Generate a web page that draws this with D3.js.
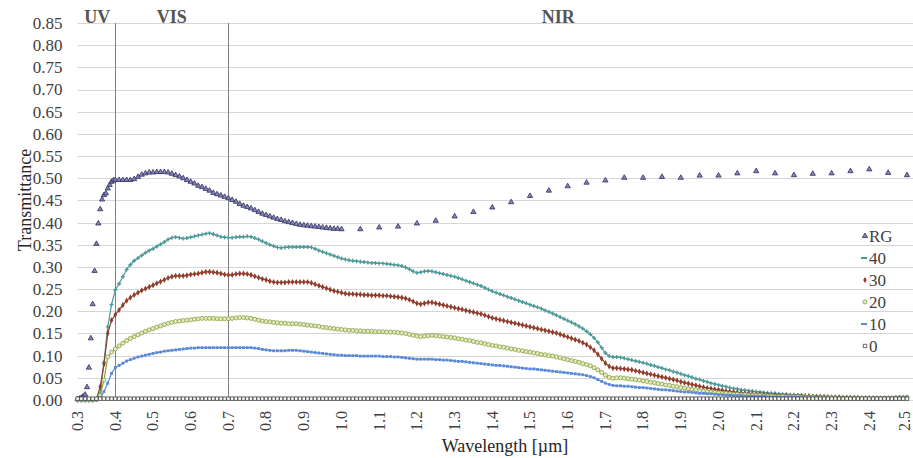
<!DOCTYPE html>
<html>
<head>
<meta charset="utf-8">
<script src="https://cdn.jsdelivr.net/npm/d3@7"></script>
<style>
  html, body { margin: 0; padding: 0; background: #fff; }
  svg { display: block; }
  svg text { font-family: "Liberation Serif", "Times New Roman", Times, "DejaVu Serif", serif !important; }
</style>
</head>
<body>
<svg id="chart" width="913" height="458"></svg>
<script>
// ---- Data ----
const wavelengths = [
  0.30,0.31,0.32,0.33,0.34,0.35,0.36,0.37,0.38,0.39,
  0.40,0.41,0.42,0.43,0.44,0.45,0.46,0.47,0.48,0.49,
  0.50,0.51,0.52,0.53,0.54,0.55,0.56,0.57,0.58,0.59,
  0.60,0.61,0.62,0.63,0.64,0.65,0.66,0.67,0.68,0.69,
  0.70,0.71,0.72,0.73,0.74,0.75,0.76,0.77,0.78,0.79,
  0.80,0.81,0.82,0.83,0.84,0.85,0.86,0.87,0.88,0.89,
  0.90,0.91,0.92,0.93,0.94,0.95,0.96,0.97,0.98,0.99,
  1.00,1.01,1.02,1.03,1.04,1.05,1.06,1.07,1.08,1.09,
  1.10,1.11,1.12,1.13,1.14,1.15,1.16,1.17,1.18,1.19,
  1.20,1.21,1.22,1.23,1.24,1.25,1.26,1.27,1.28,1.29,
  1.30,1.31,1.32,1.33,1.34,1.35,1.36,1.37,1.38,1.39,
  1.40,1.41,1.42,1.43,1.44,1.45,1.46,1.47,1.48,1.49,
  1.50,1.51,1.52,1.53,1.54,1.55,1.56,1.57,1.58,1.59,
  1.60,1.61,1.62,1.63,1.64,1.65,1.66,1.67,1.68,1.69,
  1.70,1.71,1.72,1.73,1.74,1.75,1.76,1.77,1.78,1.79,
  1.80,1.81,1.82,1.83,1.84,1.85,1.86,1.87,1.88,1.89,
  1.90,1.91,1.92,1.93,1.94,1.95,1.96,1.97,1.98,1.99,
  2.00,2.01,2.02,2.03,2.04,2.05,2.06,2.07,2.08,2.09,
  2.10,2.11,2.12,2.13,2.14,2.15,2.16,2.17,2.18,2.19,
  2.20,2.21,2.22,2.23,2.24,2.25,2.26,2.27,2.28,2.29,
  2.30,2.31,2.32,2.33,2.34,2.35,2.36,2.37,2.38,2.39,
  2.40,2.41,2.42,2.43,2.44,2.45,2.46,2.47,2.48,2.49,
  2.50
];

const series40 = [
  0,0,0,0,0,0.002,0.015,0.085,0.165,0.215,
  0.248,0.262,0.278,0.294,0.305,0.314,0.320,0.326,0.332,0.337,
  0.341,0.346,0.351,0.356,0.362,0.366,0.367,0.366,0.364,0.365,
  0.367,0.369,0.371,0.373,0.375,0.376,0.374,0.371,0.368,0.367,
  0.366,0.366,0.367,0.368,0.368,0.369,0.368,0.365,0.362,0.358,
  0.354,0.350,0.347,0.344,0.343,0.344,0.345,0.345,0.345,0.345,
  0.345,0.345,0.344,0.341,0.337,0.334,0.331,0.328,0.325,0.322,
  0.319,0.317,0.315,0.314,0.313,0.312,0.311,0.310,0.309,0.309,
  0.308,0.308,0.307,0.306,0.305,0.304,0.302,0.299,0.295,0.290,
  0.287,0.288,0.290,0.291,0.290,0.288,0.286,0.284,0.282,0.280,
  0.278,0.275,0.272,0.269,0.266,0.263,0.260,0.257,0.253,0.249,
  0.245,0.242,0.239,0.236,0.233,0.230,0.227,0.224,0.221,0.218,
  0.215,0.212,0.209,0.206,0.202,0.199,0.195,0.191,0.187,0.183,
  0.179,0.175,0.171,0.166,0.161,0.155,0.148,0.140,0.130,0.118,
  0.106,0.099,0.097,0.097,0.096,0.094,0.092,0.090,0.088,0.086,
  0.084,0.082,0.079,0.077,0.074,0.072,0.069,0.067,0.064,0.062,
  0.059,0.056,0.054,0.051,0.048,0.046,0.043,0.041,0.038,0.036,
  0.034,0.032,0.030,0.028,0.026,0.025,0.023,0.022,0.021,0.020,
  0.019,0.018,0.017,0.016,0.015,0.015,0.014,0.013,0.013,0.012,
  0.012,0.011,0.011,0.010,0.010,0.009,0.009,0.008,0.008,0.008,
  0.007,0.007,0.007,0.006,0.006,0.006,0.006,0.005,0.005,0.005,
  0.005,0.005,0.004,0.004,0.004,0.005,0.004,0.005,0.006,0.006,
  0.007
];

const series30 = [
  0,0,0,0,0,0.002,0.030,0.081,0.150,0.180,
  0.192,0.203,0.214,0.224,0.231,0.237,0.242,0.247,0.251,0.255,
  0.259,0.263,0.267,0.271,0.275,0.278,0.280,0.280,0.280,0.281,
  0.283,0.284,0.285,0.287,0.289,0.289,0.288,0.287,0.285,0.283,
  0.282,0.282,0.284,0.285,0.285,0.284,0.282,0.279,0.276,0.273,
  0.271,0.268,0.266,0.265,0.265,0.265,0.266,0.266,0.266,0.266,
  0.266,0.266,0.264,0.261,0.258,0.255,0.252,0.249,0.246,0.244,
  0.242,0.240,0.239,0.239,0.238,0.238,0.237,0.237,0.236,0.236,
  0.236,0.235,0.235,0.234,0.233,0.232,0.231,0.229,0.226,0.222,
  0.218,0.216,0.218,0.220,0.220,0.218,0.216,0.214,0.212,0.210,
  0.208,0.206,0.204,0.202,0.200,0.198,0.196,0.194,0.191,0.188,
  0.185,0.183,0.181,0.179,0.177,0.175,0.173,0.171,0.169,0.167,
  0.165,0.163,0.161,0.159,0.157,0.155,0.153,0.151,0.148,0.145,
  0.142,0.139,0.136,0.133,0.129,0.125,0.119,0.112,0.103,0.093,
  0.083,0.076,0.072,0.072,0.071,0.070,0.069,0.068,0.066,0.064,
  0.062,0.060,0.058,0.056,0.054,0.052,0.050,0.048,0.046,0.044,
  0.041,0.039,0.037,0.035,0.033,0.031,0.029,0.027,0.026,0.024,
  0.023,0.022,0.020,0.019,0.018,0.017,0.016,0.015,0.015,0.014,
  0.013,0.013,0.012,0.012,0.011,0.011,0.010,0.010,0.010,0.009,
  0.009,0.009,0.008,0.008,0.008,0.007,0.007,0.007,0.007,0.006,
  0.006,0.006,0.006,0.005,0.005,0.005,0.005,0.005,0.004,0.004,
  0.004,0.004,0.004,0.004,0.004,0.004,0.004,0.005,0.005,0.005,
  0.006
];

const series20 = [
  0,0,0,0,0,0.001,0.010,0.045,0.097,0.108,
  0.115,0.122,0.128,0.134,0.139,0.143,0.147,0.151,0.155,0.158,
  0.161,0.164,0.167,0.170,0.173,0.175,0.177,0.178,0.179,0.180,
  0.181,0.182,0.183,0.184,0.184,0.184,0.184,0.183,0.183,0.183,
  0.183,0.184,0.185,0.186,0.186,0.185,0.184,0.182,0.180,0.178,
  0.177,0.176,0.175,0.174,0.173,0.173,0.172,0.172,0.172,0.171,
  0.170,0.169,0.168,0.167,0.166,0.164,0.163,0.162,0.161,0.160,
  0.159,0.158,0.157,0.157,0.156,0.156,0.155,0.155,0.155,0.154,
  0.154,0.154,0.153,0.153,0.153,0.152,0.151,0.150,0.148,0.146,
  0.144,0.143,0.144,0.145,0.146,0.145,0.144,0.143,0.142,0.141,
  0.140,0.138,0.137,0.135,0.134,0.132,0.130,0.129,0.127,0.125,
  0.123,0.122,0.120,0.119,0.117,0.115,0.114,0.112,0.111,0.109,
  0.108,0.106,0.105,0.103,0.102,0.100,0.099,0.097,0.095,0.093,
  0.091,0.089,0.087,0.085,0.082,0.080,0.077,0.073,0.068,0.062,
  0.056,0.051,0.049,0.050,0.050,0.049,0.048,0.047,0.046,0.045,
  0.043,0.042,0.040,0.039,0.037,0.036,0.034,0.033,0.031,0.030,
  0.028,0.027,0.025,0.024,0.023,0.021,0.020,0.019,0.018,0.017,
  0.016,0.015,0.015,0.014,0.013,0.013,0.012,0.012,0.011,0.011,
  0.010,0.010,0.009,0.009,0.009,0.008,0.008,0.008,0.007,0.007,
  0.007,0.007,0.006,0.006,0.006,0.006,0.005,0.005,0.005,0.005,
  0.005,0.005,0.004,0.004,0.004,0.004,0.004,0.004,0.004,0.003,
  0.003,0.003,0.003,0.004,0.004,0.004,0.004,0.005,0.005,0.005,
  0.006
];

const series10 = [
  0,0,0,0,0,0,0.004,0.019,0.038,0.060,
  0.073,0.078,0.083,0.088,0.091,0.094,0.097,0.099,0.101,0.103,
  0.105,0.107,0.108,0.110,0.111,0.112,0.113,0.114,0.115,0.116,
  0.117,0.117,0.118,0.118,0.118,0.118,0.118,0.118,0.118,0.118,
  0.118,0.118,0.118,0.118,0.118,0.118,0.118,0.117,0.116,0.114,
  0.113,0.112,0.111,0.111,0.111,0.111,0.112,0.112,0.112,0.111,
  0.110,0.109,0.108,0.107,0.106,0.105,0.104,0.103,0.102,0.101,
  0.101,0.100,0.100,0.100,0.100,0.099,0.099,0.099,0.099,0.099,
  0.099,0.098,0.098,0.098,0.097,0.097,0.096,0.095,0.094,0.093,
  0.092,0.092,0.092,0.092,0.092,0.091,0.091,0.090,0.090,0.089,
  0.088,0.087,0.087,0.086,0.085,0.084,0.083,0.082,0.081,0.080,
  0.079,0.078,0.078,0.077,0.076,0.075,0.074,0.073,0.072,0.071,
  0.070,0.070,0.069,0.068,0.067,0.066,0.065,0.064,0.063,0.062,
  0.061,0.060,0.059,0.058,0.057,0.055,0.053,0.050,0.046,0.042,
  0.038,0.035,0.033,0.032,0.032,0.031,0.031,0.030,0.029,0.028,
  0.028,0.027,0.026,0.025,0.024,0.023,0.023,0.022,0.021,0.020,
  0.019,0.018,0.018,0.017,0.016,0.015,0.015,0.014,0.014,0.013,
  0.012,0.012,0.011,0.011,0.010,0.010,0.010,0.009,0.009,0.009,
  0.008,0.008,0.008,0.007,0.007,0.007,0.007,0.006,0.006,0.006,
  0.006,0.006,0.005,0.005,0.005,0.005,0.005,0.004,0.004,0.004,
  0.004,0.004,0.004,0.004,0.003,0.003,0.003,0.003,0.003,0.003,
  0.003,0.003,0.003,0.003,0.004,0.004,0.004,0.004,0.005,0.005,
  0.006
];

const series0 = [
  0.003,0.003,0.003,0.003,0.003,0.003,0.003,0.003,0.003,0.003,
  0.003,0.003,0.003,0.003,0.003,0.003,0.003,0.003,0.003,0.003,
  0.003,0.003,0.003,0.003,0.003,0.003,0.003,0.003,0.003,0.003,
  0.003,0.003,0.003,0.003,0.003,0.003,0.003,0.003,0.003,0.003,
  0.003,0.003,0.003,0.003,0.003,0.003,0.003,0.003,0.003,0.003,
  0.003,0.003,0.003,0.003,0.003,0.003,0.003,0.003,0.003,0.003,
  0.003,0.003,0.003,0.003,0.003,0.003,0.003,0.003,0.003,0.003,
  0.003,0.003,0.003,0.003,0.003,0.003,0.003,0.003,0.003,0.003,
  0.003,0.003,0.003,0.003,0.003,0.003,0.003,0.003,0.003,0.003,
  0.003,0.003,0.003,0.003,0.003,0.003,0.003,0.003,0.003,0.003,
  0.003,0.003,0.003,0.003,0.003,0.003,0.003,0.003,0.003,0.003,
  0.003,0.003,0.003,0.003,0.003,0.003,0.003,0.003,0.003,0.003,
  0.003,0.003,0.003,0.003,0.003,0.003,0.003,0.003,0.003,0.003,
  0.003,0.003,0.003,0.003,0.003,0.003,0.003,0.003,0.003,0.003,
  0.003,0.003,0.003,0.003,0.003,0.003,0.003,0.003,0.003,0.003,
  0.003,0.003,0.003,0.003,0.003,0.003,0.003,0.003,0.003,0.003,
  0.003,0.003,0.003,0.003,0.003,0.003,0.003,0.003,0.003,0.003,
  0.003,0.003,0.003,0.003,0.003,0.003,0.003,0.003,0.003,0.003,
  0.003,0.003,0.003,0.003,0.003,0.003,0.003,0.003,0.003,0.003,
  0.003,0.003,0.003,0.003,0.003,0.003,0.003,0.003,0.003,0.003,
  0.003,0.003,0.003,0.003,0.003,0.003,0.003,0.003,0.003,0.003,
  0.003,0.003,0.003,0.003,0.003,0.003,0.003,0.003,0.003,0.003,
  0.003
];

const rgWavelengths = [
  0.300,0.305,0.310,0.315,0.320,0.325,0.330,0.335,0.340,0.345,
  0.350,0.355,0.360,0.365,0.370,0.375,0.380,0.385,0.390,0.395,0.400,
  0.41,0.42,0.43,0.44,0.45,0.46,0.47,0.48,0.49,0.50,
  0.51,0.52,0.53,0.54,0.55,0.56,0.57,0.58,0.59,0.60,
  0.61,0.62,0.63,0.64,0.65,0.66,0.67,0.68,0.69,0.70,
  0.71,0.72,0.73,0.74,0.75,0.76,0.77,0.78,0.79,0.80,
  0.81,0.82,0.83,0.84,0.85,0.86,0.87,0.88,0.89,0.90,
  0.91,0.92,0.93,0.94,0.95,0.96,0.97,0.98,0.99,1.00,
  1.05,1.10,1.15,1.20,1.25,1.30,1.35,1.40,1.45,1.50,
  1.55,1.60,1.65,1.70,1.75,1.80,1.85,1.90,1.95,2.00,
  2.05,2.10,2.15,2.20,2.25,2.30,2.35,2.40,2.45,2.50
];
const seriesRG = [
  0.002,0.003,0.005,0.008,0.012,0.029,0.073,0.139,0.216,0.291,
  0.352,0.398,0.430,0.452,0.462,0.466,0.477,0.485,0.492,0.495,0.496,
  0.496,0.496,0.496,0.496,0.498,0.503,0.508,0.511,0.513,0.513,
  0.514,0.514,0.514,0.513,0.510,0.507,0.504,0.500,0.496,0.492,
  0.488,0.483,0.480,0.476,0.472,0.467,0.464,0.461,0.458,0.455,
  0.451,0.447,0.442,0.438,0.435,0.432,0.428,0.424,0.420,0.417,
  0.414,0.411,0.408,0.406,0.403,0.401,0.399,0.397,0.395,0.394,
  0.393,0.392,0.391,0.390,0.389,0.388,0.387,0.386,0.386,0.385,
  0.385,0.389,0.391,0.398,0.404,0.414,0.424,0.434,0.446,0.460,
  0.472,0.482,0.490,0.495,0.501,0.501,0.503,0.501,0.506,0.506,
  0.511,0.516,0.511,0.507,0.510,0.511,0.516,0.520,0.512,0.507
];

const yTicks = [0,0.05,0.10,0.15,0.20,0.25,0.30,0.35,0.40,0.45,0.50,0.55,0.60,0.65,0.70,0.75,0.80,0.85];
const xTicks = [0.3,0.4,0.5,0.6,0.7,0.8,0.9,1.0,1.1,1.2,1.3,1.4,1.5,1.6,1.7,1.8,1.9,2.0,2.1,2.2,2.3,2.4,2.5];
const regionLines = [0.4, 0.7];
const regionLabels = [
  {text: "UV", at: 0.352},
  {text: "VIS", at: 0.550},
  {text: "NIR", at: 1.575}
];
const legendNames = ["RG", "40", "30", "20", "10", "0"];

// ---- Chart ----
const SERIF = "'Liberation Serif', 'Times New Roman', Times, 'DejaVu Serif', serif";
const svg = d3.select("#chart");
const x = d3.scaleLinear().domain([0.3, 2.5]).range([77.6, 907]);
const y = d3.scaleLinear().domain([0, 0.85]).range([400, 23]);

// gridlines
svg.append("g")
  .selectAll("line").data(yTicks).join("line")
  .attr("x1", x(0.3)).attr("x2", 913)
  .attr("y1", d => Math.round(y(d)) + 0.5).attr("y2", d => Math.round(y(d)) + 0.5)
  .attr("stroke", "#d6d6d6").attr("stroke-width", 1);

// region separators
svg.append("g")
  .selectAll("line").data(regionLines).join("line")
  .attr("x1", d => Math.round(x(d)) + 0.5).attr("x2", d => Math.round(x(d)) + 0.5)
  .attr("y1", y(0.85)).attr("y2", y(0))
  .attr("stroke", "#808080").attr("stroke-width", 1);

// y axis
const yAxis = svg.append("g")
  .attr("transform", `translate(${x(0.3)},0)`)
  .call(d3.axisLeft(y).tickValues(yTicks).tickFormat(d3.format(".2f")).tickSize(0).tickPadding(15));
yAxis.attr("font-family", SERIF);
yAxis.select(".domain").remove();
yAxis.selectAll("text")
  .style("font-family", SERIF)
  .attr("font-size", 17).attr("fill", "#404040");

// x axis
const xAxis = svg.append("g")
  .attr("transform", `translate(0,${y(0)})`)
  .call(d3.axisBottom(x).tickValues(xTicks).tickFormat(d3.format(".1f")).tickSize(0));
xAxis.attr("font-family", SERIF);
xAxis.select(".domain").remove();
xAxis.selectAll("text")
  .style("font-family", SERIF)
  .attr("font-size", 16).attr("fill", "#404040")
  .attr("transform", "rotate(-90)")
  .attr("text-anchor", "end")
  .attr("x", -11).attr("y", d => d === 2.5 ? -2 : 0).attr("dy", "0.3em");

// axis titles
svg.append("text")
  .style("font-family", SERIF)
  .attr("transform", "translate(31,200) rotate(-90)")
  .attr("text-anchor", "middle")
  .attr("font-size", 18).attr("fill", "#262626")
  .text("Transmittance");
svg.append("text")
  .style("font-family", SERIF)
  .attr("x", 505).attr("y", 452)
  .attr("text-anchor", "middle")
  .attr("font-size", 18).attr("fill", "#262626")
  .text("Wavelength [\u00b5m]");

// region labels
svg.append("g")
  .selectAll("text").data(regionLabels).join("text")
  .style("font-family", SERIF)
  .attr("x", d => x(d.at)).attr("y", 23)
  .attr("text-anchor", "middle")
  .attr("font-weight", "bold").attr("font-size", 18).attr("fill", "#555")
  .text(d => d.text);

// series definitions
const styles = {
  "RG": {color: "#2e2e62", line: false, symbol: d3.symbolTriangle, size: 12, fill: "#8585b4", stroke: "#2e2e62"},
  "40": {color: "#4d9898", line: true, symbol: d3.symbolCross, size: 9, fill: "#4d9898", stroke: "none"},
  "30": {color: "#8f3c2a", line: true, symbol: d3.symbolDiamond, size: 11, fill: "#8f3c2a", stroke: "none"},
  "20": {color: "#89a13c", line: true, symbol: d3.symbolCircle, size: 13, fill: "#e3eac4", stroke: "#89a13c"},
  "10": {color: "#5a89d6", line: true, symbol: d3.symbolSquare, size: 8, fill: "#5a89d6", stroke: "none"},
  "0":  {color: "#3c3c3c", line: false, symbol: d3.symbolSquare, size: 12, fill: "#fff", stroke: "#3c3c3c"}
};
const seriesData = {
  "RG": {xs: rgWavelengths, ys: seriesRG},
  "40": {xs: wavelengths, ys: series40},
  "30": {xs: wavelengths, ys: series30},
  "20": {xs: wavelengths, ys: series20},
  "10": {xs: wavelengths, ys: series10},
  "0":  {xs: wavelengths, ys: series0}
};

const lineGen = d3.line().x(d => x(d[0])).y(d => y(d[1]));

legendNames.forEach(name => {
  const s = styles[name];
  const pts = seriesData[name].xs.map((w, i) => [w, seriesData[name].ys[i]]);
  const g = svg.append("g");
  if (s.line) {
    g.append("path").datum(pts)
      .attr("d", lineGen)
      .attr("fill", "none").attr("stroke", s.color).attr("stroke-width", 1.2);
  }
  g.selectAll("path.m").data(pts).join("path")
    .attr("class", "m")
    .attr("transform", d => `translate(${x(d[0])},${y(d[1])})`)
    .attr("d", d3.symbol().type(s.symbol).size(s.size))
    .attr("fill", s.fill).attr("stroke", s.stroke).attr("stroke-width", 0.8);
});

// legend
const legend = svg.append("g");
legendNames.forEach((name, i) => {
  const s = styles[name];
  const cy = 236 + i * 22;
  if (name === "40" || name === "10") {
    legend.append("line")
      .attr("x1", 861).attr("x2", 867).attr("y1", cy).attr("y2", cy)
      .attr("stroke", s.color).attr("stroke-width", 2);
  } else {
    legend.append("path")
      .attr("transform", `translate(865,${cy})`)
      .attr("d", d3.symbol().type(s.symbol).size(s.size))
      .attr("fill", s.fill).attr("stroke", s.stroke).attr("stroke-width", 0.8);
  }
  legend.append("text")
    .style("font-family", SERIF)
    .attr("x", 869).attr("y", cy).attr("dy", "0.35em")
    .attr("font-size", 17).attr("fill", "#404040")
    .text(name);
});
</script>
</body>
</html>
